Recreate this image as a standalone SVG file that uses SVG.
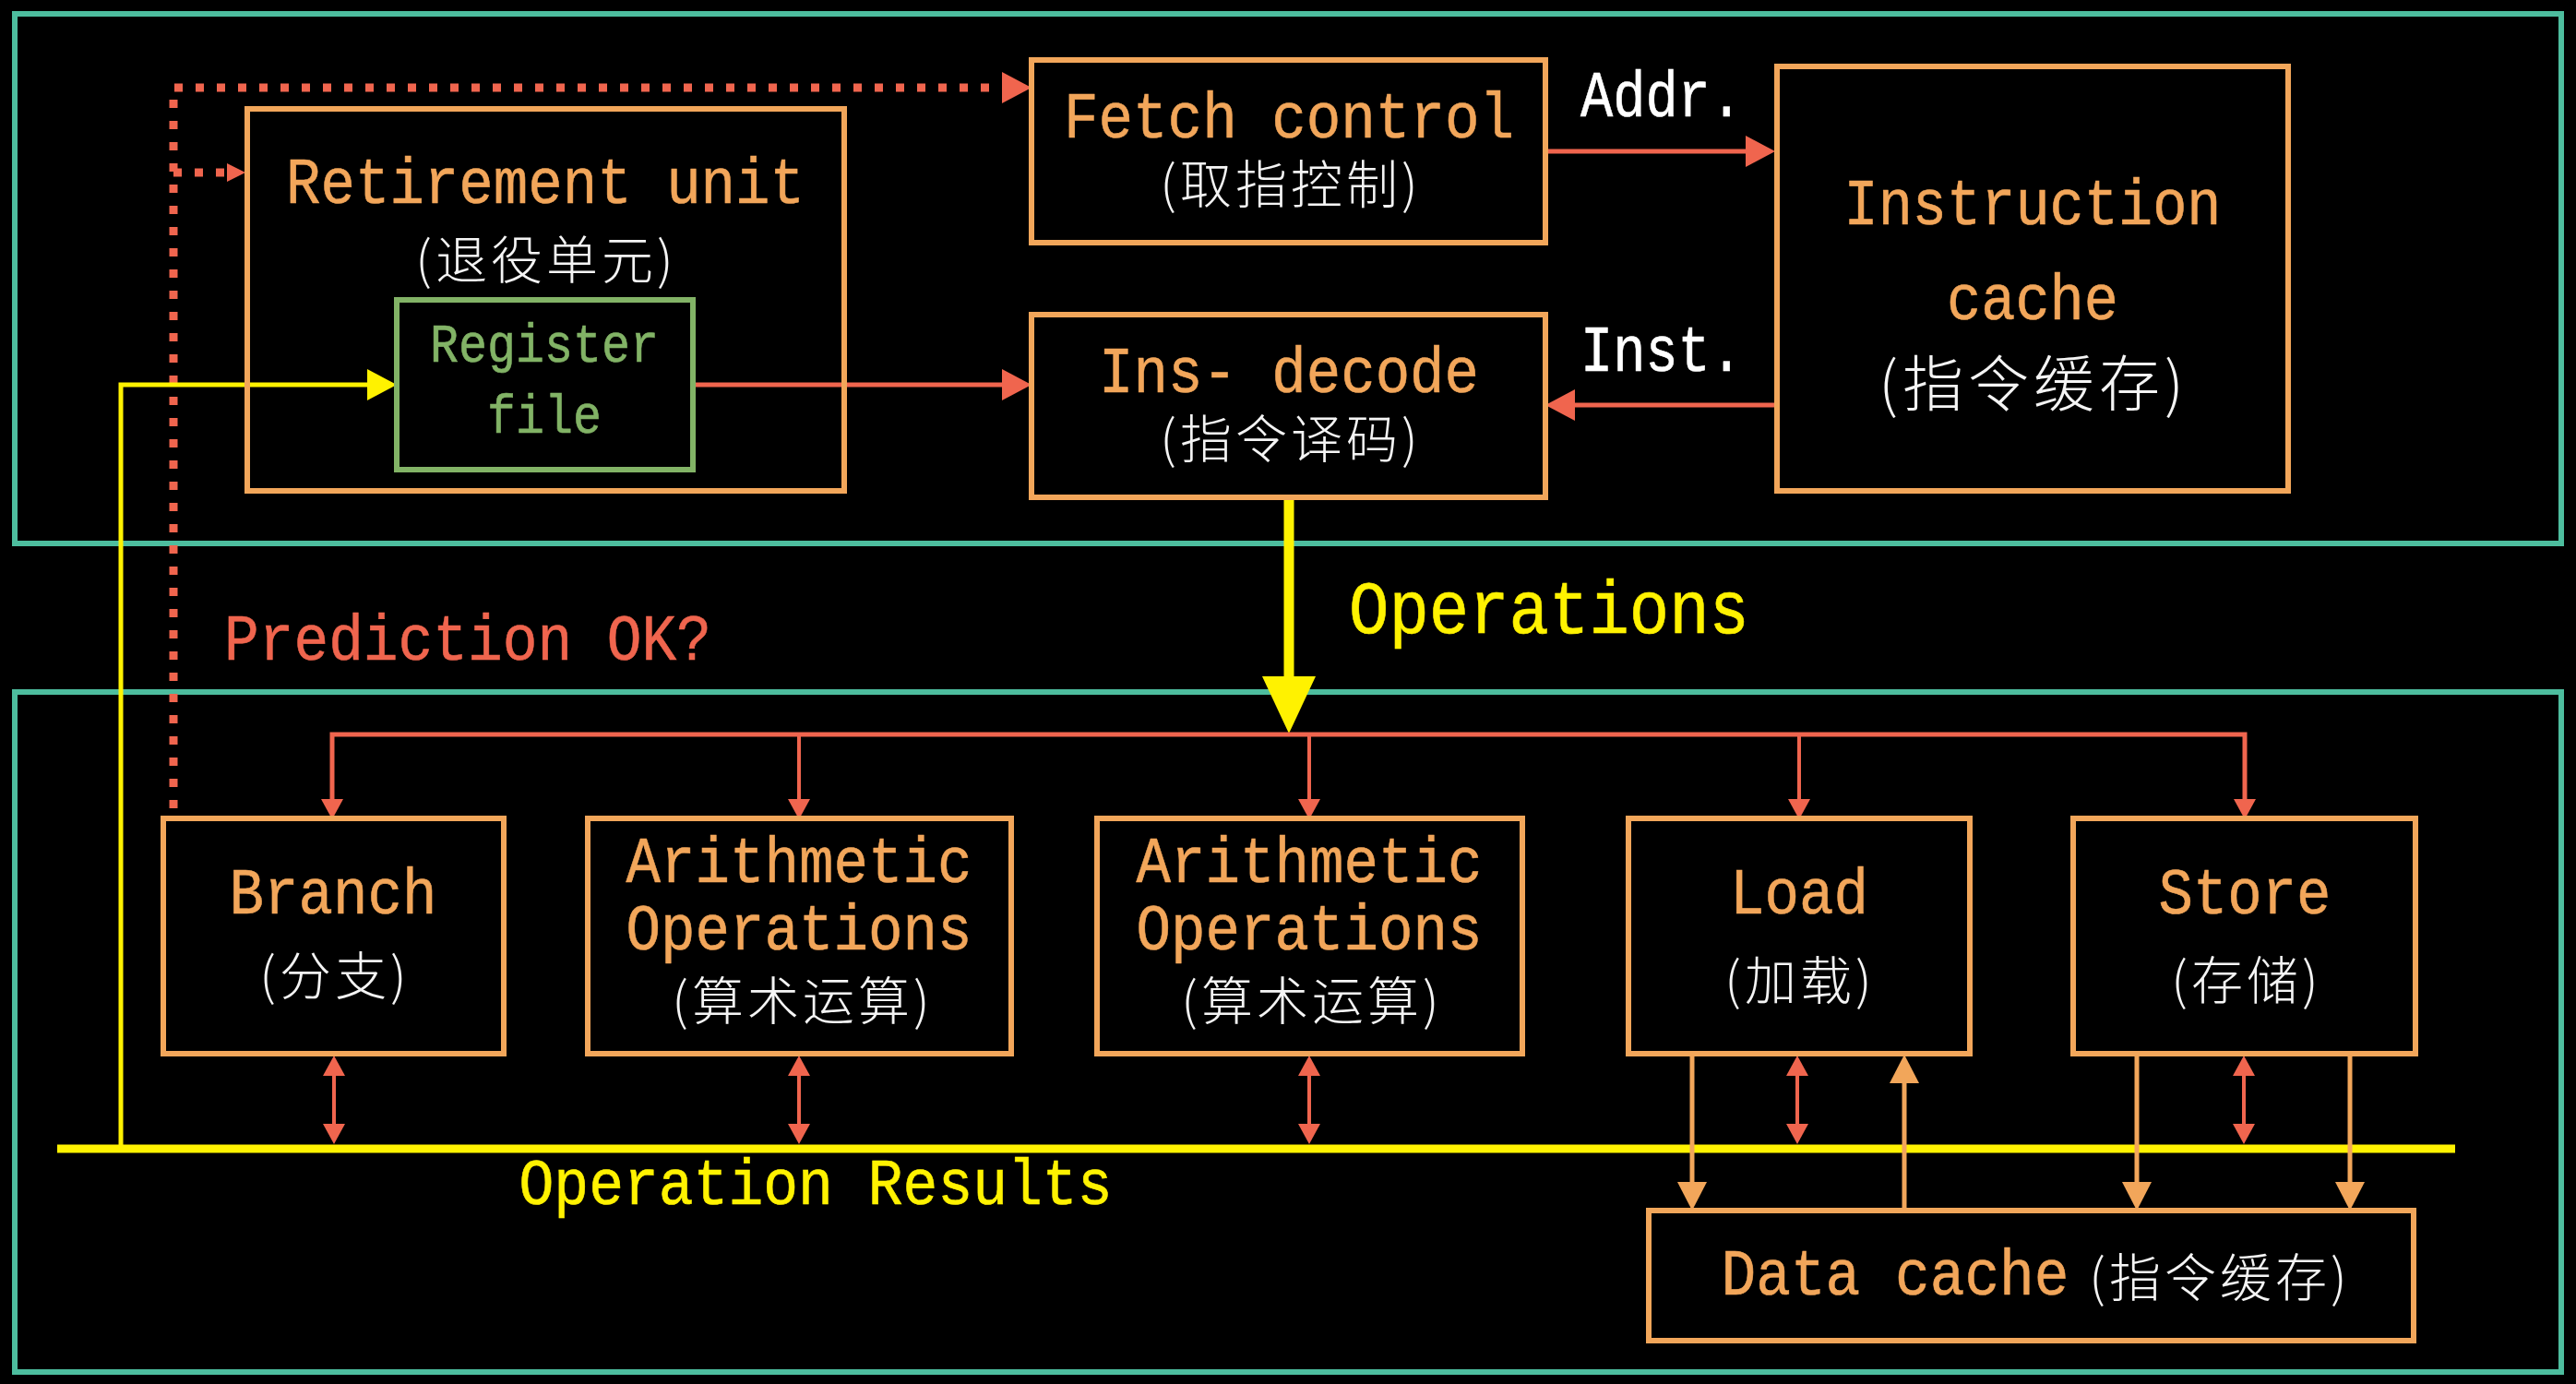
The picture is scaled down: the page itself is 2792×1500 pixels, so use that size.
<svg xmlns="http://www.w3.org/2000/svg" width="2792" height="1500" viewBox="0 0 2792 1500">
<style>
.bg{fill:#000}
.frame{fill:none;stroke:#4dbd9e;stroke-width:6}
.box{fill:none;stroke:#f2a65a;stroke-width:6}
.gbox{fill:none;stroke:#82b366;stroke-width:6}
.lat{font-family:"Liberation Mono","Courier New",monospace;font-size:70px;text-anchor:middle;stroke-width:0.6;paint-order:stroke}
.or{fill:#f2a65a;stroke:#f2a65a}
.gr{fill:#82b366;stroke:#82b366}
.wh{fill:#ffffff;stroke:#ffffff}
.ye{fill:#fff200;stroke:#fff200}
.rd{fill:#f0654e;stroke:#f0654e}
.cjk{font-family:"Noto Sans CJK SC","Noto Sans CJK JP",sans-serif;font-size:56px;font-weight:300;letter-spacing:4px;text-anchor:middle;fill:#f4f4f4}
.red{fill:none;stroke:#f0654e}
.yel{fill:none;stroke:#fff200}
.org{fill:none;stroke:#f2a65a;stroke-width:5}
.dot{fill:none;stroke:#f0654e;stroke-width:9;stroke-dasharray:9 14}
</style>
<defs>
<marker id="mRs" markerUnits="userSpaceOnUse" markerWidth="22" markerHeight="24" refX="0" refY="12" orient="auto-start-reverse" overflow="visible"><path d="M0,0 L22,12 L0,24 Z" fill="#f0654e"/></marker>
<marker id="mRb" markerUnits="userSpaceOnUse" markerWidth="32" markerHeight="34" refX="0" refY="17" orient="auto" overflow="visible"><path d="M0,0 L32,17 L0,34 Z" fill="#f0654e"/></marker>
<marker id="mRt" markerUnits="userSpaceOnUse" markerWidth="20" markerHeight="20" refX="0" refY="10" orient="auto" overflow="visible"><path d="M0,0 L20,10 L0,20 Z" fill="#f0654e"/></marker>
<marker id="mY" markerUnits="userSpaceOnUse" markerWidth="32" markerHeight="34" refX="0" refY="17" orient="auto" overflow="visible"><path d="M0,0 L32,17 L0,34 Z" fill="#fff200"/></marker>
<marker id="mO" markerUnits="userSpaceOnUse" markerWidth="31" markerHeight="32" refX="0" refY="16" orient="auto" overflow="visible"><path d="M0,0 L31,16 L0,32 Z" fill="#f2a65a"/></marker>
</defs>
<rect class="bg" x="0" y="0" width="2792" height="1500"/>

<g id="frame-frontend"><rect class="frame" x="16" y="15" width="2760" height="574"/></g>
<g id="frame-backend"><rect class="frame" x="16" y="750" width="2760" height="737"/></g>

<g id="connectors">
  <path class="dot" d="M188,876 V95 H1086" marker-end="url(#mRb)"/>
  <path class="dot" d="M188,187 H246" marker-end="url(#mRt)"/>
  <path class="yel" stroke-width="5" d="M131,1245 V417 H398" marker-end="url(#mY)"/>
  <path class="red" stroke-width="5" d="M751,417 H1086" marker-end="url(#mRb)"/>
  <path class="red" stroke-width="5" d="M1675,164 H1892" marker-end="url(#mRb)"/>
  <path class="red" stroke-width="5" d="M1926,439 H1707" marker-end="url(#mRb)"/>
  <path class="yel" stroke-width="11" d="M1397,539 V736"/>
  <polygon points="1368,733 1426,733 1397,795" fill="#fff200"/>
  <path class="red" stroke-width="5" d="M360,866 V796 H2433 V866" marker-start="url(#mRs)" marker-end="url(#mRs)" stroke-linejoin="miter"/>
  <path class="red" stroke-width="4" d="M866,796 V866" marker-end="url(#mRs)"/>
  <path class="red" stroke-width="4" d="M1419,796 V866" marker-end="url(#mRs)"/>
  <path class="red" stroke-width="4" d="M1950,796 V866" marker-end="url(#mRs)"/>
  <path class="yel" stroke-width="9" d="M62,1245 H2661"/>
  <path class="red" stroke-width="4" d="M362,1166 V1218" marker-start="url(#mRs)" marker-end="url(#mRs)"/>
  <path class="red" stroke-width="4" d="M866,1166 V1218" marker-start="url(#mRs)" marker-end="url(#mRs)"/>
  <path class="red" stroke-width="4" d="M1419,1166 V1218" marker-start="url(#mRs)" marker-end="url(#mRs)"/>
  <path class="red" stroke-width="4" d="M1948,1166 V1218" marker-start="url(#mRs)" marker-end="url(#mRs)"/>
  <path class="red" stroke-width="4" d="M2432,1166 V1218" marker-start="url(#mRs)" marker-end="url(#mRs)"/>
  <path class="org" d="M1834,1142 V1281" marker-end="url(#mO)"/>
  <path class="org" d="M2064,1312 V1174" marker-end="url(#mO)"/>
  <path class="org" d="M2316,1142 V1281" marker-end="url(#mO)"/>
  <path class="org" d="M2547,1142 V1281" marker-end="url(#mO)"/>
</g>

<g id="retirement-unit">
  <rect class="box" x="268" y="118" width="647" height="414"/>
  <text class="lat or" x="591" y="220" textLength="562" lengthAdjust="spacingAndGlyphs">Retirement unit</text>
  <text class="cjk" x="592" y="302">(退役单元)</text>
</g>
<g id="register-file">
  <rect class="gbox" x="430" y="325" width="321" height="184"/>
  <text class="lat gr" x="590" y="392" style="font-size:59px" textLength="248" lengthAdjust="spacingAndGlyphs">Register</text>
  <text class="lat gr" x="590" y="469" style="font-size:59px" textLength="124" lengthAdjust="spacingAndGlyphs">file</text>
</g>
<g id="fetch-control">
  <rect class="box" x="1118" y="65" width="557" height="198"/>
  <text class="lat or" x="1397" y="149" textLength="488" lengthAdjust="spacingAndGlyphs">Fetch control</text>
  <text class="cjk" x="1399" y="220">(取指控制)</text>
</g>
<g id="ins-decode">
  <rect class="box" x="1118" y="341" width="557" height="198"/>
  <text class="lat or" x="1397" y="425" textLength="412" lengthAdjust="spacingAndGlyphs">Ins- decode</text>
  <text class="cjk" x="1399" y="496">(指令译码)</text>
</g>
<g id="instruction-cache">
  <rect class="box" x="1926" y="72" width="554" height="460"/>
  <text class="lat or" x="2203" y="243" textLength="409" lengthAdjust="spacingAndGlyphs">Instruction</text>
  <text class="lat or" x="2203" y="346" textLength="186" lengthAdjust="spacingAndGlyphs">cache</text>
  <text class="cjk" x="2204" y="440" style="font-size:66px;letter-spacing:5px">(指令缓存)</text>
</g>
<g id="labels">
  <text class="lat wh" x="1801" y="126" textLength="176" lengthAdjust="spacingAndGlyphs">Addr.</text>
  <text class="lat wh" x="1801" y="402" textLength="176" lengthAdjust="spacingAndGlyphs">Inst.</text>
  <text class="lat ye" x="1679" y="686" style="font-size:82px" textLength="434" lengthAdjust="spacingAndGlyphs">Operations</text>
  <text class="lat rd" x="507" y="715" textLength="528" lengthAdjust="spacingAndGlyphs">Prediction OK?</text>
  <text class="lat ye" x="884" y="1305" textLength="643" lengthAdjust="spacingAndGlyphs">Operation Results</text>
</g>
<g id="branch">
  <rect class="box" x="177" y="887" width="369" height="255"/>
  <text class="lat or" x="361" y="990" textLength="225" lengthAdjust="spacingAndGlyphs">Branch</text>
  <text class="cjk" x="363" y="1078">(分支)</text>
</g>
<g id="arith-1">
  <rect class="box" x="637" y="887" width="459" height="255"/>
  <text class="lat or" x="866" y="956" textLength="375" lengthAdjust="spacingAndGlyphs">Arithmetic</text>
  <text class="lat or" x="866" y="1029" textLength="375" lengthAdjust="spacingAndGlyphs">Operations</text>
  <text class="cjk" x="870" y="1105">(算术运算)</text>
</g>
<g id="arith-2">
  <rect class="box" x="1189" y="887" width="461" height="255"/>
  <text class="lat or" x="1419" y="956" textLength="375" lengthAdjust="spacingAndGlyphs">Arithmetic</text>
  <text class="lat or" x="1419" y="1029" textLength="375" lengthAdjust="spacingAndGlyphs">Operations</text>
  <text class="cjk" x="1422" y="1105">(算术运算)</text>
</g>
<g id="load">
  <rect class="box" x="1765" y="887" width="370" height="255"/>
  <text class="lat or" x="1950" y="990" textLength="150" lengthAdjust="spacingAndGlyphs">Load</text>
  <text class="cjk" x="1951" y="1083">(加载)</text>
</g>
<g id="store">
  <rect class="box" x="2247" y="887" width="371" height="255"/>
  <text class="lat or" x="2433" y="990" textLength="187" lengthAdjust="spacingAndGlyphs">Store</text>
  <text class="cjk" x="2435" y="1083">(存储)</text>
</g>
<g id="data-cache">
  <rect class="box" x="1787" y="1312" width="829" height="141"/>
  <text class="lat or" x="2054" y="1403" textLength="377" lengthAdjust="spacingAndGlyphs">Data cache</text>
  <text class="cjk" x="2406" y="1405">(指令缓存)</text>
</g>
</svg>
